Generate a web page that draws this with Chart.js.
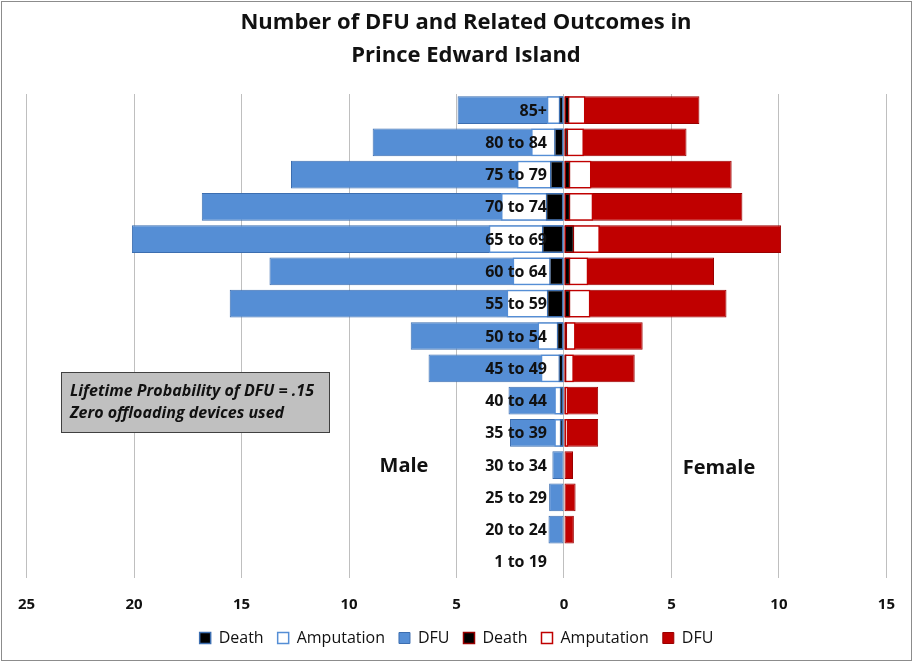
<!DOCTYPE html>
<html>
<head>
<meta charset="utf-8">
<script src="https://cdn.jsdelivr.net/npm/chart.js@4/dist/chart.umd.min.js"></script>
<style>
  html, body { margin: 0; padding: 0; background: #fff; }
  #wrap { position: relative; width: 913px; height: 662px; }
</style>
</head>
<body>
<div id="wrap"><canvas id="pyramid"></canvas></div>
<script>
// age groups, top row first
const ageGroups = ['85+', '80 to 84', '75 to 79', '70 to 74', '65 to 69', '60 to 64', '55 to 59',
  '50 to 54', '45 to 49', '40 to 44', '35 to 39', '30 to 34', '25 to 29', '20 to 24', '1 to 19'];

// male counts (drawn to the left)
const maleDFU        = [4.95, 8.9, 12.7, 16.85, 20.1, 13.7, 15.55, 7.13, 6.3, 2.58, 2.51, 0.54, 0.69, 0.72, 0];
const maleAmputation = [0.8, 1.53, 2.19, 2.93, 3.5, 2.39, 2.67, 1.23, 1.08, 0.45, 0.45, 0, 0, 0, 0];
const maleDeath      = [0.25, 0.46, 0.65, 0.85, 1.03, 0.69, 0.8, 0.34, 0.26, 0.2, 0.2, 0, 0, 0, 0];

// female counts (drawn to the right)
const femaleDFU        = [6.3, 5.7, 7.8, 8.3, 10.1, 6.98, 7.56, 3.66, 3.29, 1.59, 1.59, 0.42, 0.54, 0.46, 0];
const femaleAmputation = [1.0, 0.93, 1.28, 1.36, 1.67, 1.13, 1.23, 0.54, 0.46, 0.2, 0.2, 0, 0, 0, 0];
const femaleDeath      = [0.26, 0.2, 0.3, 0.3, 0.48, 0.3, 0.3, 0.15, 0.12, 0.05, 0.05, 0, 0, 0, 0];

const xMin = -25, xMax = 15, xStep = 5;

const titleLines = ['Number of DFU and Related Outcomes in', 'Prince Edward Island'];

const FONT = '"Open Sans", sans-serif';
const BLUE = '#558ED5', BLUE_EDGE = '#3C6EB0';
const RED = '#C00000', RED_EDGE = '#9A0000';

const neg = arr => arr.map(v => -v);

function barSet(label, data, fill, edge, width) {
  return {
    label: label,
    data: data,
    backgroundColor: fill,
    borderColor: edge,
    borderWidth: width,
    borderSkipped: false,
    grouped: false,
    categoryPercentage: 0.86,
    barPercentage: 1
  };
}

// draws background, frame, title, age labels and the text notes
const overlay = {
  id: 'overlay',
  beforeDraw(chart) {
    const ctx = chart.ctx;
    ctx.save();
    ctx.fillStyle = '#fff';
    ctx.fillRect(0, 0, chart.width, chart.height);
    ctx.restore();
  },
  afterDatasetsDraw(chart) {
    const ctx = chart.ctx;
    const xs = chart.scales.x, ys = chart.scales.y;
    const x0 = xs.getPixelForValue(0);
    ctx.save();
    ctx.font = 'bold 16px ' + FONT;
    ctx.fillStyle = '#111';
    ctx.textAlign = 'right';
    ctx.textBaseline = 'middle';
    ageGroups.forEach((g, i) => {
      ctx.fillText(g, x0 - 17, ys.getPixelForValue(i) + 1);
    });
    ctx.restore();
  },
  afterDraw(chart) {
    const ctx = chart.ctx;
    ctx.save();
    ctx.fillStyle = '#111';
    ctx.textAlign = 'center';
    ctx.textBaseline = 'middle';

    // title (sits a little right of centre in the original)
    ctx.font = 'bold 22px ' + FONT;
    ctx.fillText(titleLines[0], 466, 23);
    ctx.fillText(titleLines[1], 466, 56);

    // Male / Female
    ctx.font = 'bold 20px ' + FONT;
    ctx.fillText('Male', 404, 466);
    ctx.fillText('Female', 719, 468);

    // note box
    ctx.fillStyle = '#C0C0C0';
    ctx.fillRect(61, 372, 268, 60);
    ctx.strokeStyle = '#404040';
    ctx.lineWidth = 1;
    ctx.strokeRect(61.5, 372.5, 268, 60);
    ctx.fillStyle = '#111';
    ctx.font = 'italic bold 16px ' + FONT;
    ctx.textAlign = 'left';
    ctx.fillText('Lifetime Probability of DFU = .15', 70, 391);
    ctx.fillText('Zero offloading devices used', 70, 413);

    // outer frame
    ctx.strokeStyle = '#8C8C8C';
    ctx.strokeRect(1.5, 1.5, chart.width - 3, chart.height - 3);
    ctx.restore();
  }
};

new Chart(document.getElementById('pyramid'), {
  type: 'bar',
  data: {
    labels: ageGroups,
    datasets: [
      barSet('Death', neg(maleDeath), '#000', BLUE_EDGE, 1.5),
      barSet('Amputation', neg(maleAmputation), '#fff', BLUE, 1.5),
      barSet('DFU', neg(maleDFU), BLUE, BLUE_EDGE, 1),
      barSet('Death', femaleDeath, '#000', RED_EDGE, 1.5),
      barSet('Amputation', femaleAmputation, '#fff', RED, 1.5),
      barSet('DFU', femaleDFU, RED, RED_EDGE, 1)
    ]
  },
  options: {
    indexAxis: 'y',
    responsive: true,
    maintainAspectRatio: false,
    animation: false,
    layout: { padding: { left: 16, right: 16, top: 94, bottom: 6 } },
    scales: {
      x: {
        min: xMin,
        max: xMax,
        ticks: {
          stepSize: xStep,
          padding: 18,
          color: '#111',
          font: { family: FONT, size: 15, weight: 'bold' },
          callback: v => Math.abs(v)
        },
        grid: { color: '#BFBFBF', drawTicks: false },
        border: { display: false },
        // pull the plot area down so ticks sit close to the legend
        afterFit(scale) { scale.height -= 16; }
      },
      y: {
        display: false
      }
    },
    plugins: {
      title: { display: false },
      legend: {
        position: 'bottom',
        labels: {
          boxWidth: 11,
          boxHeight: 11,
          padding: 14,
          color: '#111',
          font: { family: FONT, size: 16 }
        }
      },
      tooltip: { enabled: false }
    }
  },
  plugins: [overlay]
});
</script>
</body>
</html>
